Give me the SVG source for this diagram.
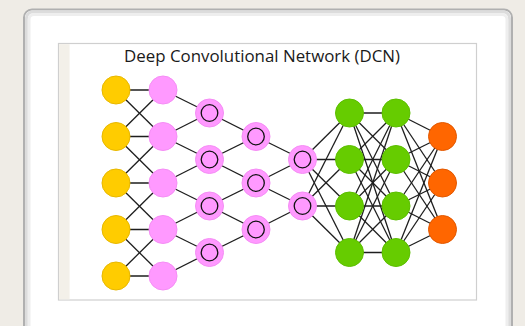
<svg xmlns="http://www.w3.org/2000/svg" width="525" height="326" viewBox="0 0 525 326">
  <defs>
    <style>
      .card { fill: #ffffff; stroke: #b0b0b0; stroke-width: 2; }
      .glow { fill: none; stroke: #dcdcdc; stroke-width: 3; }
      .glow2 { fill: none; stroke: #eeeeee; stroke-width: 3; }
      .frame { fill: #ffffff; stroke: #cfcfcf; stroke-width: 1.2; }
      .strip { fill: #f3f0e9; }
      .title { font-family: "Open Sans", "DejaVu Sans", sans-serif; font-size: 17px; fill: #1a1a1a; }
      .edges line { stroke: #1e1e1e; stroke-width: 1.3; }
      .in { fill: #ffcc00; stroke: #e8b800; stroke-width: 1; }
      .k { fill: #ff99ff; stroke: #f58df5; stroke-width: 1; }
      .ring { fill: none; stroke: #111; stroke-width: 1.3; }
      .h { fill: #66cc00; stroke: #5cbf00; stroke-width: 1; }
      .out { fill: #ff6600; stroke: #e25800; stroke-width: 1; }
    </style>
  </defs>

  <!-- paper background -->
  <rect x="0" y="0" width="525" height="326" fill="#efece6"/>

  <!-- card -->
  <rect class="card" x="24" y="9.5" width="488" height="340" rx="8"/>
  <rect class="glow" x="26.5" y="12" width="483" height="340" rx="6"/>
  <rect class="glow2" x="29" y="14.5" width="478" height="340" rx="5"/>

  <!-- figure frame -->
  <rect class="frame" x="58.5" y="43.5" width="418" height="256.5"/>
  <rect class="strip" x="59.1" y="44.1" width="10.5" height="255.3"/>

  <text class="title" x="262" y="61.5" text-anchor="middle" textLength="276" lengthAdjust="spacingAndGlyphs">Deep Convolutional Network (DCN)</text>

  <!-- connectors -->
  <g id="connectors" class="edges">
    <!-- input -> kernel -->
    <line x1="116" y1="90" x2="163" y2="90"/>
    <line x1="116" y1="136.5" x2="163" y2="136.5"/>
    <line x1="116" y1="183" x2="163" y2="183"/>
    <line x1="116" y1="229.5" x2="163" y2="229.5"/>
    <line x1="116" y1="276" x2="163" y2="276"/>
    <line x1="116" y1="90" x2="163" y2="136.5"/>
    <line x1="116" y1="136.5" x2="163" y2="90"/>
    <line x1="116" y1="136.5" x2="163" y2="183"/>
    <line x1="116" y1="183" x2="163" y2="136.5"/>
    <line x1="116" y1="183" x2="163" y2="229.5"/>
    <line x1="116" y1="229.5" x2="163" y2="183"/>
    <line x1="116" y1="229.5" x2="163" y2="276"/>
    <line x1="116" y1="276" x2="163" y2="229.5"/>
    <!-- kernel -> conv 1 -->
    <line x1="163" y1="90" x2="209.5" y2="113"/>
    <line x1="163" y1="136.5" x2="209.5" y2="113"/>
    <line x1="163" y1="136.5" x2="209.5" y2="159.5"/>
    <line x1="163" y1="183" x2="209.5" y2="159.5"/>
    <line x1="163" y1="183" x2="209.5" y2="206"/>
    <line x1="163" y1="229.5" x2="209.5" y2="206"/>
    <line x1="163" y1="229.5" x2="209.5" y2="252.5"/>
    <line x1="163" y1="276" x2="209.5" y2="252.5"/>
    <!-- conv 1 -> conv 2 -->
    <line x1="209.5" y1="113" x2="256" y2="136.5"/>
    <line x1="209.5" y1="159.5" x2="256" y2="136.5"/>
    <line x1="209.5" y1="159.5" x2="256" y2="183"/>
    <line x1="209.5" y1="206" x2="256" y2="183"/>
    <line x1="209.5" y1="206" x2="256" y2="229.5"/>
    <line x1="209.5" y1="252.5" x2="256" y2="229.5"/>
    <!-- conv 2 -> conv 3 -->
    <line x1="256" y1="136.5" x2="302.5" y2="159.5"/>
    <line x1="256" y1="183" x2="302.5" y2="159.5"/>
    <line x1="256" y1="183" x2="302.5" y2="206"/>
    <line x1="256" y1="229.5" x2="302.5" y2="206"/>
    <!-- conv 3 -> hidden 1 -->
    <line x1="302.5" y1="159.5" x2="349.5" y2="113"/>
    <line x1="302.5" y1="159.5" x2="349.5" y2="159.5"/>
    <line x1="302.5" y1="159.5" x2="349.5" y2="206"/>
    <line x1="302.5" y1="159.5" x2="349.5" y2="252.5"/>
    <line x1="302.5" y1="206" x2="349.5" y2="113"/>
    <line x1="302.5" y1="206" x2="349.5" y2="159.5"/>
    <line x1="302.5" y1="206" x2="349.5" y2="206"/>
    <line x1="302.5" y1="206" x2="349.5" y2="252.5"/>
    <!-- hidden 1 -> hidden 2 -->
    <line x1="349.5" y1="113" x2="396" y2="113"/>
    <line x1="349.5" y1="113" x2="396" y2="159.5"/>
    <line x1="349.5" y1="113" x2="396" y2="206"/>
    <line x1="349.5" y1="113" x2="396" y2="252.5"/>
    <line x1="349.5" y1="159.5" x2="396" y2="113"/>
    <line x1="349.5" y1="159.5" x2="396" y2="159.5"/>
    <line x1="349.5" y1="159.5" x2="396" y2="206"/>
    <line x1="349.5" y1="159.5" x2="396" y2="252.5"/>
    <line x1="349.5" y1="206" x2="396" y2="113"/>
    <line x1="349.5" y1="206" x2="396" y2="159.5"/>
    <line x1="349.5" y1="206" x2="396" y2="206"/>
    <line x1="349.5" y1="206" x2="396" y2="252.5"/>
    <line x1="349.5" y1="252.5" x2="396" y2="113"/>
    <line x1="349.5" y1="252.5" x2="396" y2="159.5"/>
    <line x1="349.5" y1="252.5" x2="396" y2="206"/>
    <line x1="349.5" y1="252.5" x2="396" y2="252.5"/>
    <!-- hidden 2 -> output -->
    <line x1="396" y1="113" x2="442.5" y2="136.5"/>
    <line x1="396" y1="113" x2="442.5" y2="183"/>
    <line x1="396" y1="113" x2="442.5" y2="229.5"/>
    <line x1="396" y1="159.5" x2="442.5" y2="136.5"/>
    <line x1="396" y1="159.5" x2="442.5" y2="183"/>
    <line x1="396" y1="159.5" x2="442.5" y2="229.5"/>
    <line x1="396" y1="206" x2="442.5" y2="136.5"/>
    <line x1="396" y1="206" x2="442.5" y2="183"/>
    <line x1="396" y1="206" x2="442.5" y2="229.5"/>
    <line x1="396" y1="252.5" x2="442.5" y2="136.5"/>
    <line x1="396" y1="252.5" x2="442.5" y2="183"/>
    <line x1="396" y1="252.5" x2="442.5" y2="229.5"/>
  </g>

  <!-- input layer -->
  <g id="in1"><circle class="in" cx="116" cy="90" r="14"/></g>
  <g id="in2"><circle class="in" cx="116" cy="136.5" r="14"/></g>
  <g id="in3"><circle class="in" cx="116" cy="183" r="14"/></g>
  <g id="in4"><circle class="in" cx="116" cy="229.5" r="14"/></g>
  <g id="in5"><circle class="in" cx="116" cy="276" r="14"/></g>

  <!-- kernel layer -->
  <g id="k1"><circle class="k" cx="163" cy="90" r="14"/></g>
  <g id="k2"><circle class="k" cx="163" cy="136.5" r="14"/></g>
  <g id="k3"><circle class="k" cx="163" cy="183" r="14"/></g>
  <g id="k4"><circle class="k" cx="163" cy="229.5" r="14"/></g>
  <g id="k5"><circle class="k" cx="163" cy="276" r="14"/></g>

  <!-- convolution layers -->
  <g id="c1a"><circle class="k" cx="209.5" cy="113" r="14"/><circle class="ring" cx="209.5" cy="113" r="8.3"/></g>
  <g id="c1b"><circle class="k" cx="209.5" cy="159.5" r="14"/><circle class="ring" cx="209.5" cy="159.5" r="8.3"/></g>
  <g id="c1c"><circle class="k" cx="209.5" cy="206" r="14"/><circle class="ring" cx="209.5" cy="206" r="8.3"/></g>
  <g id="c1d"><circle class="k" cx="209.5" cy="252.5" r="14"/><circle class="ring" cx="209.5" cy="252.5" r="8.3"/></g>

  <g id="c2a"><circle class="k" cx="256" cy="136.5" r="14"/><circle class="ring" cx="256" cy="136.5" r="8.3"/></g>
  <g id="c2b"><circle class="k" cx="256" cy="183" r="14"/><circle class="ring" cx="256" cy="183" r="8.3"/></g>
  <g id="c2c"><circle class="k" cx="256" cy="229.5" r="14"/><circle class="ring" cx="256" cy="229.5" r="8.3"/></g>

  <g id="c3a"><circle class="k" cx="302.5" cy="159.5" r="14"/><circle class="ring" cx="302.5" cy="159.5" r="8.3"/></g>
  <g id="c3b"><circle class="k" cx="302.5" cy="206" r="14"/><circle class="ring" cx="302.5" cy="206" r="8.3"/></g>

  <!-- hidden layers -->
  <g id="h1a"><circle class="h" cx="349.5" cy="113" r="14"/></g>
  <g id="h1b"><circle class="h" cx="349.5" cy="159.5" r="14"/></g>
  <g id="h1c"><circle class="h" cx="349.5" cy="206" r="14"/></g>
  <g id="h1d"><circle class="h" cx="349.5" cy="252.5" r="14"/></g>

  <g id="h2a"><circle class="h" cx="396" cy="113" r="14"/></g>
  <g id="h2b"><circle class="h" cx="396" cy="159.5" r="14"/></g>
  <g id="h2c"><circle class="h" cx="396" cy="206" r="14"/></g>
  <g id="h2d"><circle class="h" cx="396" cy="252.5" r="14"/></g>

  <!-- output layer -->
  <g id="o1"><circle class="out" cx="442.5" cy="136.5" r="14"/></g>
  <g id="o2"><circle class="out" cx="442.5" cy="183" r="14"/></g>
  <g id="o3"><circle class="out" cx="442.5" cy="229.5" r="14"/></g>
</svg>
